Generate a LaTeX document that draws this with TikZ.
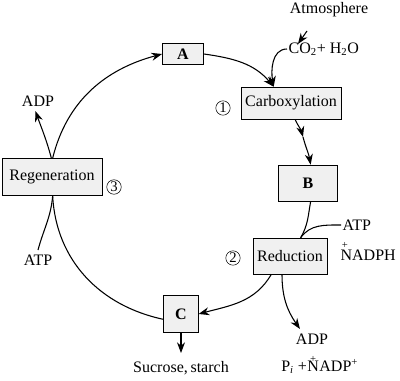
\documentclass[tikz,border=0pt]{standalone}
\usepackage{fontspec}
\setmainfont{Liberation Serif}
\usetikzlibrary{arrows.meta, positioning, calc}

\begin{document}
\begin{tikzpicture}[x=0.75pt, y=-0.75pt, font=\fontsize{12}{14}\selectfont,
    stagebox/.style={draw, fill=gray!12, minimum height=24pt, inner sep=3pt},
    letterbox/.style={draw, fill=gray!12, font=\fontsize{12}{14}\selectfont\bfseries},
    numcirc/.style={draw, circle, inner sep=0.6pt, font=\fontsize{11}{12}\selectfont},
    piece/.style={inner sep=0, anchor=base west},
    plusmark/.style={inner sep=0, font=\fontsize{8}{8}\selectfont},
    flow/.style={thick, -{Stealth[length=8pt, width=6pt]}},
    line/.style={thick}]
    \useasboundingbox (0,0) rectangle (400,381);

    % --- Boxes of the cycle ---
    \node[letterbox, minimum width=31pt, minimum height=16pt] (A) at (183,54) {A};
    \node[stagebox] (carb) at (291,103) {Carboxylation};
    \node[letterbox, minimum width=44pt, minimum height=27pt] (B) at (308,183) {B};
    \node[stagebox, minimum height=27pt] (red) at (290,256) {Reduction};
    \node[letterbox, minimum width=26pt, minimum height=28pt] (C) at (181,314) {C};
    \node[stagebox, minimum height=28pt, minimum width=75pt] (regen) at (52,177) {Regeneration};

    % --- Step numbers ---
    \node[numcirc] (n1) at (223,108) {1};
    \node[numcirc] (n2) at (233,258) {2};
    \node[numcirc] (n3) at (114,187) {3};

    % --- Inputs and outputs ---
    \node (atm) at (329,10) {Atmosphere};
    \node[right, inner sep=1pt] (co2) at (287,49) {CO\textsubscript{2}+ H\textsubscript{2}O};
    \node[right, inner sep=1pt] (atp2) at (341,225) {ATP};
    \node[right, inner sep=1pt] (nadph) at (339,255) {NADPH};
    \node[plusmark] (nadphplus) at ($(nadph.north west)+(6,-3)$) {+};
    \node (adp2) at (312,339) {ADP};
    \node[piece] (pia) at (281,371) {P\textsubscript{\textit{i}} +};
    \node[piece] (pin) at (pia.base east) {N};
    \node[piece] (pib) at (pin.base east) {ADP\textsuperscript{+}};
    \node[plusmark] (pinplus) at ($(pin.north)+(0,-1)$) {+};
    \node (sugar) at (181,368) {Sucrose,\,starch};
    \node (adp3) at (38,101) {ADP};
    \node (atp3) at (38,260) {ATP};
    \coordinate (sugtop) at (181,353);
    \coordinate (carbmid) at (303,137);

    % --- Cycle connectors ---
    \draw[flow] ([xshift=0.5pt]regen.north) to[out=76, in=195] (A.west);
    \draw[flow] (A.east) to[out=-8, in=130] ([xshift=-13pt]carb.north);
    \draw[flow] ([xshift=3pt]carb.south) to[out=-65, in=105] (carbmid);
    \draw[flow] (carbmid) to[out=-75, in=100] ([xshift=2pt]B.north);
    \draw[line] ([xshift=2pt]B.south) to[out=-100, in=60] ([xshift=8pt]red.north);
    \draw[flow] ([xshift=-14pt]red.south) to[out=-120, in=15] (C.east);
    \draw[line] ([yshift=-4pt]C.west) to[out=168, in=-87] ([xshift=0.5pt]regen.south);

    % --- Side reactants ---
    \draw[flow] ($(atm.south)+(-22,9)$) -- ($(atm.south)+(-31,22)$);
    \draw[flow] (co2.west) to[out=180, in=100] ([xshift=-13pt]carb.north);
    \draw[line] (atp2.west) to[out=180, in=55] ([xshift=8pt]red.north);
    \draw[flow] ([xshift=-6pt]red.south) to[out=-90, in=125] ([xshift=-9pt]adp2.north);
    \draw[flow] (C.south) -- (sugtop);
    \draw[line] (atp3.north) to[out=75, in=-95] ([xshift=0.5pt]regen.south);
    \draw[flow] ([xshift=-0.5pt]regen.north) to[out=105, in=-70] ([xshift=-2pt]adp3.south);
  \end{tikzpicture}
\end{document}
